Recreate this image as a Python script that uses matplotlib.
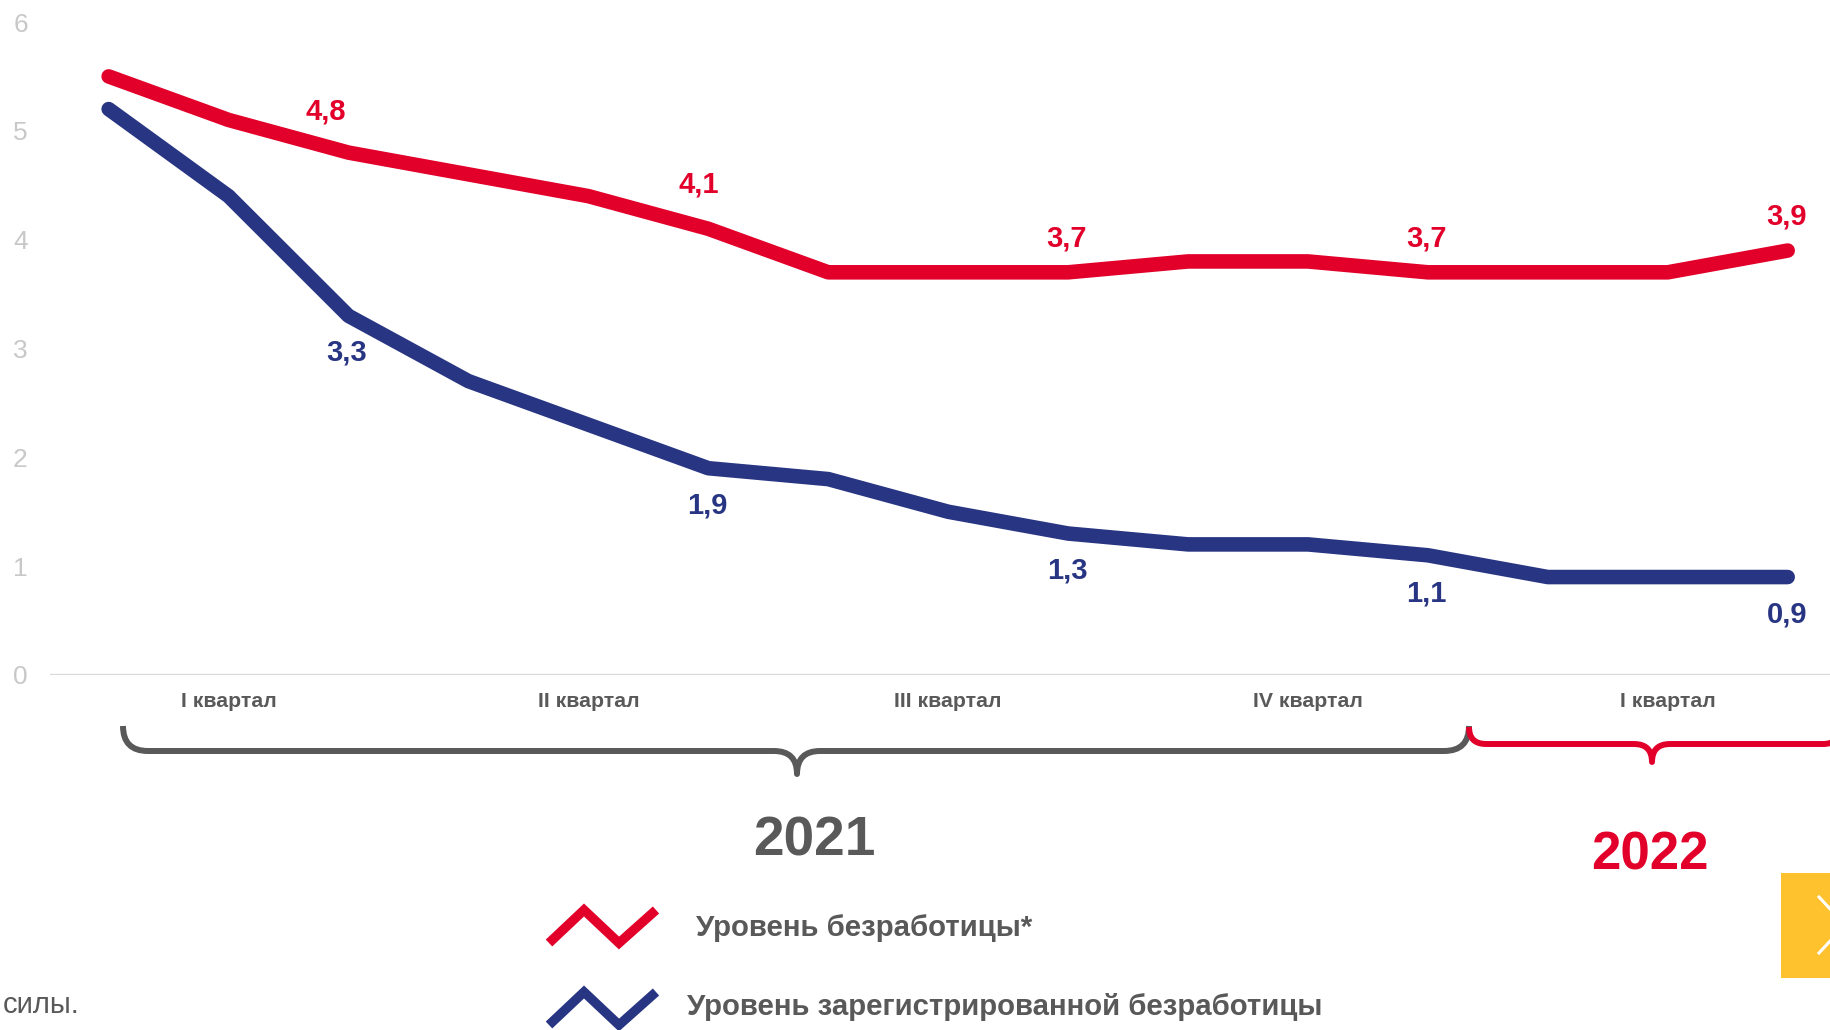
import matplotlib
matplotlib.use('Agg')
import matplotlib.pyplot as plt
from matplotlib.path import Path
from matplotlib.patches import PathPatch, Rectangle
from matplotlib import font_manager

# ---- data
unemployment = [5.5, 5.1, 4.8, 4.6, 4.4, 4.1, 3.7, 3.7, 3.7, 3.8, 3.8, 3.7, 3.7, 3.7, 3.9]
registered = [5.2, 4.4, 3.3, 2.7, 2.3, 1.9, 1.8, 1.5, 1.3, 1.2, 1.2, 1.1, 0.9, 0.9, 0.9]
label_idx = [2, 5, 8, 11, 14]
quarter_pos = [1, 4, 7, 10, 13]
quarter_names = ['I квартал', 'II квартал', 'III квартал', 'IV квартал', 'I квартал']
years = ['2021', '2022']
legend_names = ['Уровень безработицы*', 'Уровень зарегистрированной безработицы']
y_ticks = [0, 1, 2, 3, 4, 5, 6]
footnote = 'силы.'

RED = '#e2002b'
BLUE = '#283583'
GREY = '#595959'

# narrow font if there is one, else plain Liberation Sans a bit smaller
names = {f.name for f in font_manager.fontManager.ttflist}
HAS_NARROW = 'Liberation Sans Narrow' in names
NARROW = 'Liberation Sans Narrow' if HAS_NARROW else 'Liberation Sans'
nscale = 1.0 if HAS_NARROW else 0.9
plt.rcParams['font.family'] = ['Liberation Sans', 'DejaVu Sans']

W, H = 1831, 1030
fig = plt.figure(figsize=(W / 100, H / 100), dpi=100)

# overlay in pixel coords for braces, legend etc.
ov = fig.add_axes([0, 0, 1, 1], zorder=0)
ov.set_xlim(0, W)
ov.set_ylim(H, 0)
ov.axis('off')

# main chart
ax = fig.add_axes([50 / W, (H - 675) / H, (W - 50) / W, (675 - 22) / H], zorder=2)
ax.patch.set_alpha(0)
x = list(range(len(unemployment)))
ax.plot(x, unemployment, color=RED, lw=10.5, solid_capstyle='round', solid_joinstyle='round', zorder=3)
ax.plot(x, registered, color=BLUE, lw=10.5, solid_capstyle='round', solid_joinstyle='round', zorder=3)
ax.set_xlim(-0.489, 14.361)
ax.set_ylim(0, 6)
for s in ax.spines.values():
    s.set_visible(False)
ax.axhline(0, color='#d9d9d9', lw=1.6, zorder=1)

ax.set_yticks(y_ticks)
ax.tick_params(axis='y', length=0, labelsize=19, labelcolor='#c8c8c8', pad=16)
ax.set_xticks(quarter_pos)
ax.set_xticklabels(quarter_names, fontfamily=NARROW, fontweight='bold',
                   fontsize=17 * nscale, color=GREY)
ax.tick_params(axis='x', length=0, pad=12)

# value labels (offsets in pixels)
red_off = [(-23, 41), (-10, 44), (-2, 34), (-1, 34), (-1, 34)]
blue_off = [(-2, -37), (-1, -37), (-1, -37), (-2, -38), (-1, -37)]
for k, i in enumerate(label_idx):
    ax.annotate(f'{unemployment[i]:.1f}'.replace('.', ','), (i, unemployment[i]),
                xytext=red_off[k], textcoords='offset pixels', ha='center', va='center',
                fontsize=21, fontweight='bold', color=RED)
    ax.annotate(f'{registered[i]:.1f}'.replace('.', ','), (i, registered[i]),
                xytext=blue_off[k], textcoords='offset pixels', ha='center', va='center',
                fontsize=21, fontweight='bold', color=BLUE)


def brace(x0, x1, xm, ytop, yh, ycusp, color):
    r = yh - ytop
    c = ycusp - yh
    verts = [(x0, ytop), (x0, yh), (x0 + r, yh),
             (xm - c, yh), (xm, yh), (xm, ycusp),
             (xm, yh), (xm + c, yh),
             (x1 - r, yh), (x1, yh), (x1, ytop)]
    codes = [Path.MOVETO, Path.CURVE3, Path.CURVE3,
             Path.LINETO, Path.CURVE3, Path.CURVE3,
             Path.CURVE3, Path.CURVE3,
             Path.LINETO, Path.CURVE3, Path.CURVE3]
    ov.add_patch(PathPatch(Path(verts, codes), fill=False, ec=color, lw=4.3,
                           capstyle='butt', joinstyle='round'))


brace(123, 1469, 797, 726, 751, 774, GREY)
brace(1469, 1840, 1652, 727, 744, 762, RED)

ov.text(814, 841, years[0], ha='center', va='center', fontsize=44 * nscale,
        fontweight='bold', fontfamily=NARROW, color=GREY)
ov.text(1650, 855, years[1], ha='center', va='center', fontsize=38,
        fontweight='bold', color=RED)

# legend
zig_x = [549, 584, 619, 656]
zig_y = [33, 0, 33, 0]
for col, y0, name, tx in [(RED, 910, legend_names[0], 696), (BLUE, 992, legend_names[1], 687)]:
    ov.plot(zig_x, [y0 + d for d in zig_y], color=col, lw=6.8,
            solid_capstyle='butt', solid_joinstyle='miter')
    ov.text(tx, y0 + 18 if col == RED else y0 + 15, name, ha='left', va='center',
            fontsize=24 * (1.0 if HAS_NARROW else 0.88), fontweight='bold',
            fontfamily=NARROW, color=GREY)

ov.text(3, 1005, footnote, ha='left', va='center', fontsize=21, color=GREY)

# yellow nav button at the right edge
ov.add_patch(Rectangle((1781, 873), 60, 105, color='#fec22f', lw=0))
ov.plot([1819, 1845, 1819], [897, 925, 953], color='white', lw=2.2)

fig.savefig('out.png', dpi=100)
